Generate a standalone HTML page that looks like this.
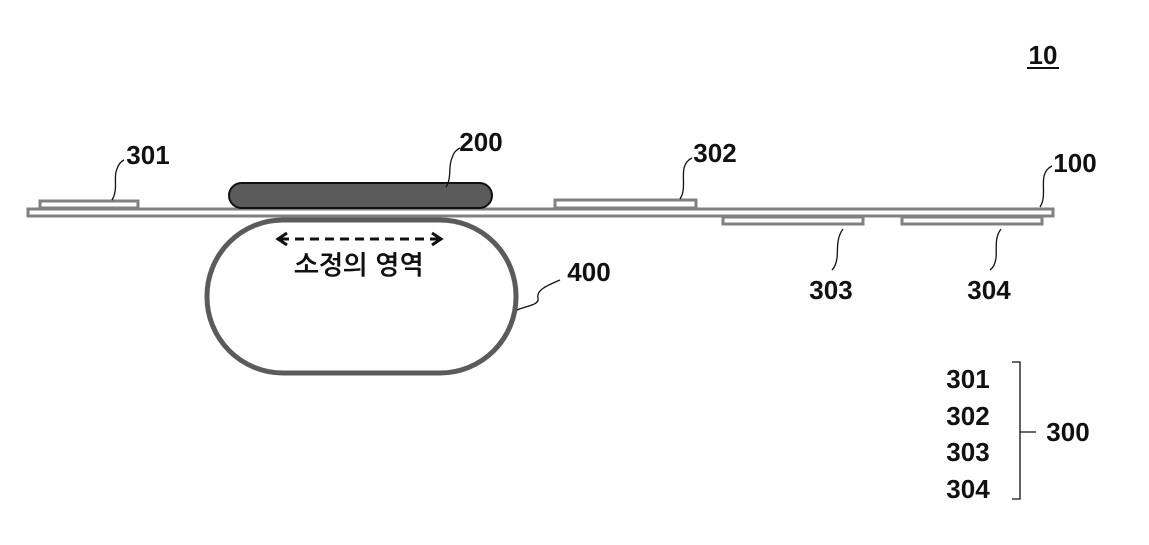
<!DOCTYPE html>
<html><head><meta charset="utf-8"><style>
html,body{margin:0;padding:0;background:#fff;}
svg{display:block;}
text{font-family:"Liberation Sans","NanumGothic",sans-serif;font-weight:bold;font-size:26px;fill:#111;}
</style></head><body>
<svg width="1149" height="545" viewBox="0 0 1149 545">
<g fill="none" stroke="#808080" stroke-width="3">
<rect x="28" y="209" width="1025" height="7"/>
<rect x="40" y="201" width="98" height="7"/>
<rect x="555" y="200" width="141" height="8"/>
<rect x="723" y="217" width="140" height="7"/>
<rect x="902" y="217" width="140" height="7"/>
</g>
<rect x="229" y="183" width="263" height="25" rx="12.5" fill="#5b5b5b" stroke="#111" stroke-width="2"/>
<rect x="207" y="220" width="309" height="153" rx="76" fill="none" stroke="#5b5b5b" stroke-width="5"/>
<g stroke="#111" stroke-width="3" fill="none">
<line x1="280" y1="239" x2="438" y2="239" stroke-dasharray="9,6"/>
<polyline points="287,233 278,239 287,245"/>
<polyline points="432,233 441,239 432,245"/>
</g>
<text x="359" y="274" text-anchor="middle" font-size="21">소정의 영역</text>
<g stroke="#111" stroke-width="1.3" fill="none">
<path d="M112,200 C118,190 114,180 116,172 C118,165 120,162 124,160"/>
<path d="M446,187 C452,178 448,166 452,158 C454,152 456,150 460,148"/>
<path d="M680,199 C686,190 682,178 684,168 C686,162 688,160 692,158"/>
<path d="M1040,207 C1046,198 1042,186 1044,176 C1046,170 1048,168 1052,166"/>
<path d="M517,310 C526,306 540,305 538,298 C536,290 548,285 560,280"/>
<path d="M843,229 C836,238 838,250 837,258 C836,265 834,268 832,270"/>
<path d="M1001,229 C994,238 997,250 996,258 C995,265 993,268 990,270"/>
<path d="M1012,362 L1020,362 L1020,499 L1012,499 M1020,432 L1036,432"/>
</g>
<text x="1043" y="64" text-anchor="middle">10</text>
<line x1="1027" y1="68" x2="1059" y2="68" stroke="#111" stroke-width="2"/>
<text x="148" y="164" text-anchor="middle">301</text>
<text x="481" y="151" text-anchor="middle">200</text>
<text x="715" y="162" text-anchor="middle">302</text>
<text x="1075" y="172" text-anchor="middle">100</text>
<text x="589" y="281" text-anchor="middle">400</text>
<text x="831" y="299" text-anchor="middle">303</text>
<text x="989" y="299" text-anchor="middle">304</text>
<text x="968" y="388" text-anchor="middle">301</text>
<text x="968" y="425" text-anchor="middle">302</text>
<text x="968" y="461" text-anchor="middle">303</text>
<text x="968" y="498" text-anchor="middle">304</text>
<text x="1068" y="441" text-anchor="middle">300</text>
</svg>
</body></html>
